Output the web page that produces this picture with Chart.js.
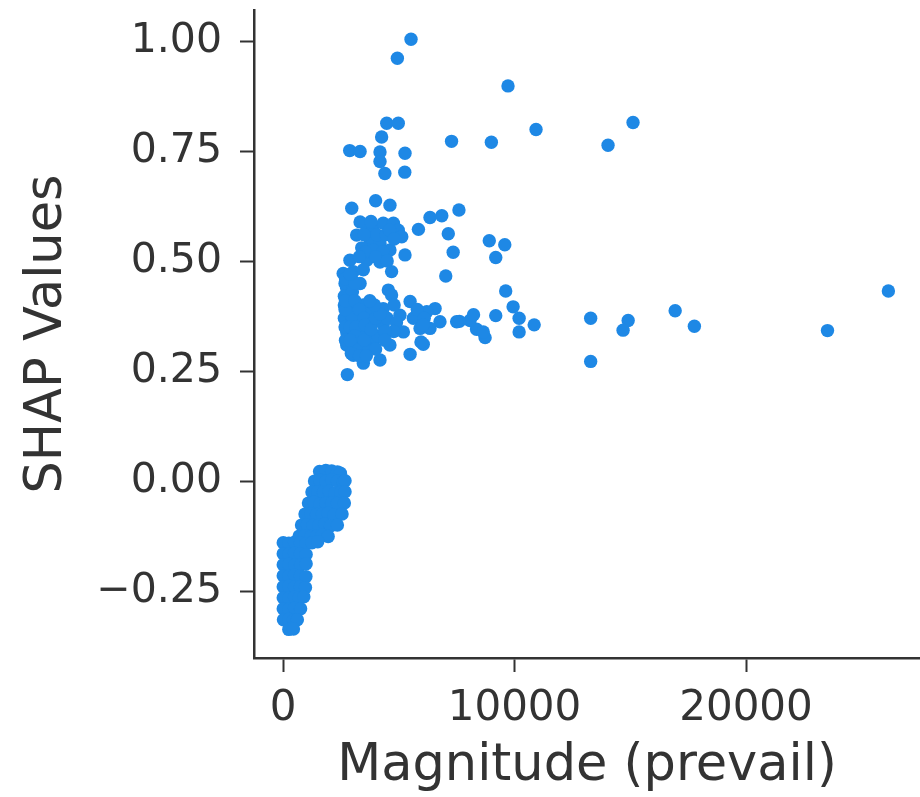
<!DOCTYPE html>
<html>
<head>
<meta charset="utf-8">
<script src="https://cdn.jsdelivr.net/npm/chart.js@4.4.1/dist/chart.umd.min.js"></script>
<style>
  html, body { margin: 0; padding: 0; background: #ffffff; }
  #wrap { width: 920px; height: 797px; }
</style>
</head>
<body>
<div id="wrap"><canvas id="c" width="920" height="797"></canvas></div>
<script>
// ---- Data ----
const xAxisTitle = 'Magnitude (prevail)';
const yAxisTitle = 'SHAP Values';
const xTickValues = [0, 10000, 20000];
const yTickValues = [-0.25, 0, 0.25, 0.5, 0.75, 1.0];

// dense cluster of small magnitudes: [magnitude, shap]
const lowCluster = [
  [1580,0.022],[1850,0.024],[2100,0.023],[2350,0.021],[2480,0.018],
  [1360,0.0],[1600,0.002],[1850,-0.001],[2100,0.003],[2350,0.0],[2600,-0.002],[2680,0.001],
  [1250,-0.025],[1500,-0.024],[1750,-0.026],[2000,-0.023],[2250,-0.027],[2500,-0.025],[2680,-0.024],
  [1100,-0.05],[1350,-0.048],[1600,-0.052],[1850,-0.05],[2100,-0.049],[2350,-0.051],[2650,-0.05],
  [950,-0.075],[1200,-0.074],[1450,-0.076],[1700,-0.075],[1950,-0.073],[2200,-0.077],[2550,-0.075],
  [800,-0.1],[1050,-0.099],[1300,-0.101],[1550,-0.1],[1800,-0.098],[2050,-0.102],[2350,-0.1],
  [700,-0.125],[950,-0.124],[1200,-0.126],[1450,-0.125],[1700,-0.123],[1950,-0.126],
  [10,-0.14],[250,-0.141],[500,-0.139],[750,-0.14],[1000,-0.142],[1250,-0.14],[1500,-0.138],
  [10,-0.165],[250,-0.166],[500,-0.164],[750,-0.165],[1000,-0.167],
  [10,-0.19],[260,-0.189],[510,-0.191],[760,-0.19],[1000,-0.188],
  [10,-0.215],[250,-0.216],[500,-0.214],[750,-0.215],[990,-0.217],
  [10,-0.24],[250,-0.239],[500,-0.241],[750,-0.24],[970,-0.242],
  [10,-0.265],[250,-0.266],[500,-0.264],[700,-0.265],[900,-0.263],
  [10,-0.29],[250,-0.291],[500,-0.289],[760,-0.29],
  [20,-0.315],[250,-0.314],[450,-0.316],[620,-0.315],
  [250,-0.337],[450,-0.336]
];

// scattered points of larger magnitudes: [magnitude, shap]
const highCluster = [
  [5530,1.004],[4940,0.961],[9720,0.898],[10930,0.799],[15120,0.815],[14040,0.763],
  [9000,0.770],[7280,0.772],[2880,0.751],[3330,0.749],[4480,0.813],[4980,0.813],
  [4260,0.782],[4190,0.748],[5270,0.745],[4190,0.726],[4400,0.699],[5260,0.702],
  [2970,0.620],[4000,0.637],[4620,0.627],[7600,0.616],[6350,0.599],[6860,0.603],
  [5850,0.572],[7140,0.562],[7350,0.520],[7030,0.466],[8910,0.546],[9580,0.537],
  [9190,0.508],[9620,0.432],[9940,0.396],[10200,0.370],[10850,0.355],[10200,0.339],
  [9190,0.376],[13290,0.370],[13290,0.272],[14910,0.365],[14690,0.343],[16940,0.387],
  [17770,0.352],[23520,0.342],[26150,0.432],[2780,0.242],[3470,0.268],[4190,0.275],
  [5490,0.288],[6060,0.311],[8730,0.326],[8360,0.345],[8080,0.365],[7620,0.363],
  [8230,0.378],[8650,0.339],[6570,0.392],[6780,0.362],[6210,0.385],[5490,0.408],
  [5050,0.377],[5630,0.370],[5200,0.339],[5920,0.347],[6350,0.347],[4550,0.434],
  [4690,0.423],[4690,0.476],[2750,0.438],
  [3180,0.559],[3620,0.570],[3900,0.578],[4330,0.586],[4770,0.586],[4980,0.570],
  [5130,0.555],[3760,0.548],[4190,0.540],[3900,0.525],[4620,0.525],[5270,0.514],
  [3620,0.502],[4190,0.498],[3330,0.589],[2890,0.502],[2600,0.472],[3040,0.476],
  [3470,0.480],[2680,0.449],[3330,0.449],[3400,0.530],[4050,0.560],[4450,0.560],
  [3500,0.560],[3800,0.590],[4600,0.570],[3550,0.520],[4300,0.520],[4800,0.550],
  [4000,0.510],[3300,0.510],[4500,0.500],
  [2650,0.420],[2650,0.400],[2700,0.460],[3000,0.430],[3100,0.450],[2900,0.470],
  [2650,0.370],[2890,0.392],[3470,0.400],[4050,0.392],[4330,0.392],[2750,0.339],
  [3330,0.355],[3900,0.362],[4330,0.355],[2750,0.309],[3330,0.317],[3900,0.317],
  [4620,0.309],[3040,0.286],[3000,0.370],[3700,0.380],[2680,0.350],[2700,0.320],
  [3600,0.340],[4100,0.330],[4500,0.370],[3200,0.300],[3700,0.300],[2680,0.390],
  [2900,0.350],[4800,0.400],[4900,0.360],[5800,0.390],[6100,0.370],[4780,0.340],
  [7500,0.362],[6050,0.355],[5960,0.316],
  [2700,0.410],[3100,0.410],[3300,0.390],[3500,0.370],[3150,0.350],[3550,0.355],
  [3100,0.330],[2900,0.320],[3500,0.320],[3800,0.345],[4000,0.370],[4200,0.380],
  [4400,0.340],[3950,0.400],[3750,0.410],[2950,0.290],[3300,0.285],[4000,0.300],
  [4400,0.320],[3600,0.285]
];

// ---- Chart ----
const pts = lowCluster.concat(highCluster).map(p => ({ x: p[0], y: p[1] }));
const TEXT = '#333333';
const FONT = 'DejaVu Sans';

function noPad(s) { s.paddingTop = 0; s.paddingBottom = 0; s.paddingLeft = 0; s.paddingRight = 0; }

new Chart(document.getElementById('c'), {
  type: 'scatter',
  data: {
    datasets: [{
      data: pts,
      backgroundColor: '#1E88E5',
      borderWidth: 0,
      pointRadius: 6.7,
      pointHoverRadius: 6.7,
      clip: false
    }]
  },
  options: {
    responsive: false,
    animation: false,
    events: [],
    layout: { autoPadding: false, padding: { top: 10, right: 0, bottom: 0, left: 0 } },
    plugins: { legend: { display: false }, tooltip: { enabled: false } },
    scales: {
      x: {
        type: 'linear',
        min: -1253,
        max: 27516,
        afterBuildTicks: s => { s.ticks = xTickValues.map(v => ({ value: v })); },
        afterFit: s => { s.height = 139; noPad(s); },
        grid: { drawOnChartArea: false, drawTicks: true, tickLength: 14, tickWidth: 2, tickColor: TEXT },
        border: { display: true, color: TEXT, width: 2.5 },
        ticks: {
          color: TEXT, font: { family: FONT, size: 42 }, padding: 12,
          maxRotation: 0, autoSkip: false,
          callback: v => String(v)
        },
        title: { display: true, text: xAxisTitle, color: TEXT, font: { family: FONT, size: 51 }, padding: { top: 0, bottom: 0 } }
      },
      y: {
        type: 'linear',
        min: -0.402,
        max: 1.0705,
        afterBuildTicks: s => { s.ticks = yTickValues.map(v => ({ value: v })); },
        afterFit: s => { s.width = 254; noPad(s); },
        grid: { drawOnChartArea: false, drawTicks: true, tickLength: 14, tickWidth: 2, tickColor: TEXT },
        border: { display: true, color: TEXT, width: 2.5 },
        ticks: {
          color: TEXT, font: { family: FONT, size: 41 }, padding: 18,
          autoSkip: false,
          callback: v => v.toFixed(2).replace('-', '\u2212')
        },
        title: { display: true, text: yAxisTitle, color: TEXT, font: { family: FONT, size: 51 }, padding: { top: 17, bottom: 0 } }
      }
    }
  }
});
</script>
</body>
</html>
